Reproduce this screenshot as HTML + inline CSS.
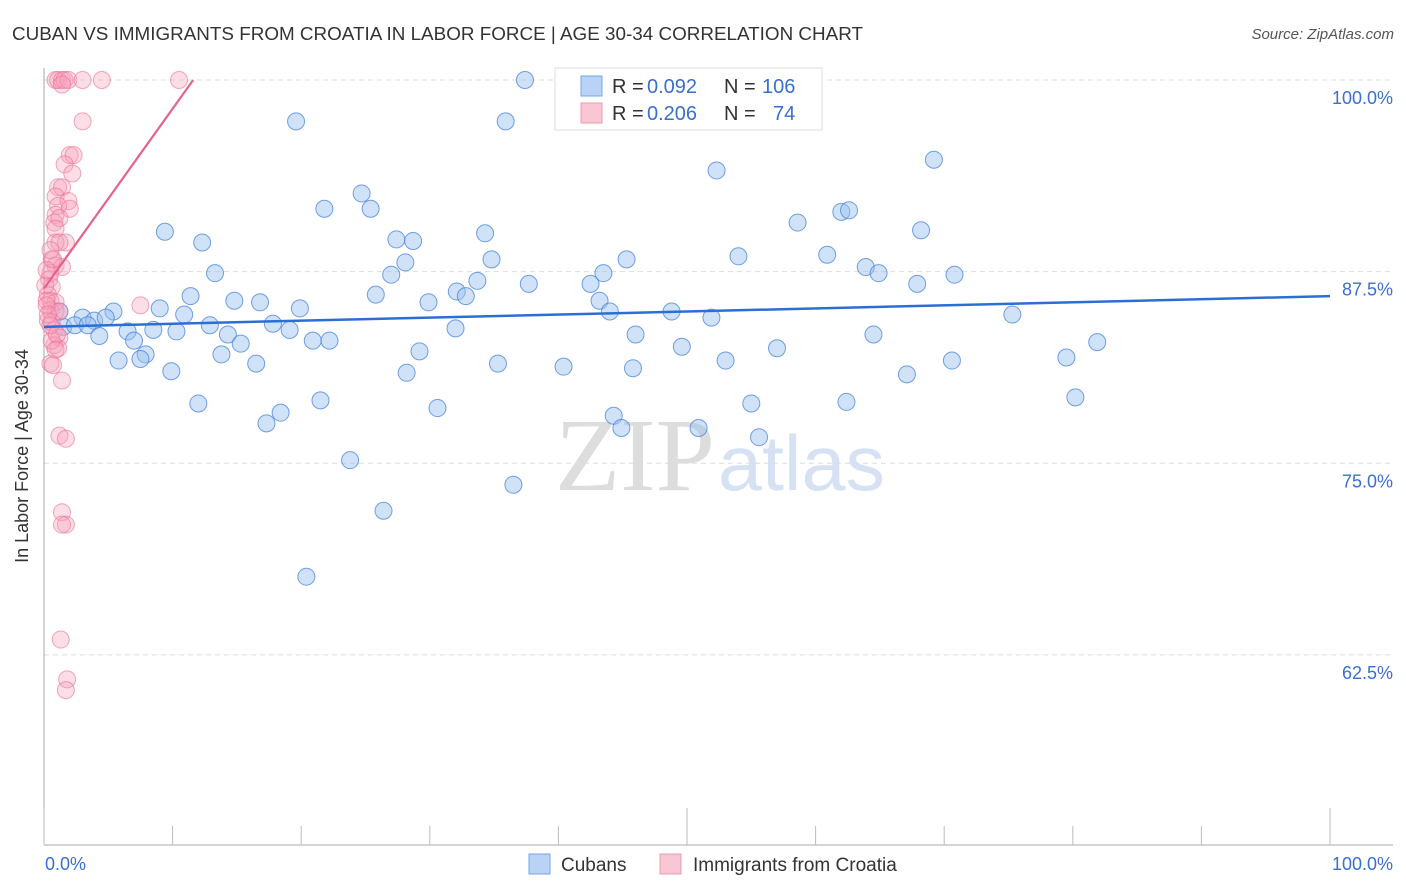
<!DOCTYPE html>
<html><head><meta charset="utf-8">
<style>
body{margin:0;background:#fff;font-family:"Liberation Sans",sans-serif;}
svg{display:block}
</style></head>
<body>
<svg id="chart" width="1406" height="892" xmlns="http://www.w3.org/2000/svg">
<text x="12" y="40" font-size="18" fill="#333" textLength="851" lengthAdjust="spacingAndGlyphs">CUBAN VS IMMIGRANTS FROM CROATIA IN LABOR FORCE | AGE 30-34 CORRELATION CHART</text>
<text x="1394" y="39" font-size="15" fill="#555" font-style="italic" text-anchor="end">Source: ZipAtlas.com</text>
<text x="28" y="456" font-size="18" fill="#333" text-anchor="middle" transform="rotate(-90 28 456)">In Labor Force | Age 30-34</text>
<text x="555" y="490" font-size="104" fill="#ddd" textLength="160" lengthAdjust="spacingAndGlyphs" font-family="Liberation Serif,serif">ZIP</text>
<text x="718" y="490" font-size="78" fill="#d6e2f4" textLength="167" lengthAdjust="spacingAndGlyphs">atlas</text>
<g id="grid"></g><g id="axes"></g><g id="pts"></g><g id="trend"></g>
<g font-size="20">
<rect x="555" y="68" width="267" height="62" fill="#fff" stroke="#ddd"/>
<rect x="581" y="76" width="21" height="20" fill="#b8d3f5" stroke="#7aa6e6"/>
<rect x="581" y="103" width="21" height="20" fill="#f9c6d4" stroke="#ef9ab2"/>
<text x="612" y="93" fill="#333">R =</text><text x="647" y="93" fill="#3a6fcf">0.092</text>
<text x="724" y="93" fill="#333">N =</text><text x="762" y="93" fill="#3a6fcf">106</text>
<text x="612" y="120" fill="#333">R =</text><text x="647" y="120" fill="#3a6fcf">0.206</text>
<text x="724" y="120" fill="#333">N =</text><text x="773" y="120" fill="#3a6fcf">74</text>
</g>
<g>
<rect x="529" y="854" width="21" height="20" fill="#b8d3f5" stroke="#7aa6e6"/>
<text x="561" y="871" font-size="19" fill="#333">Cubans</text>
<text x="693" y="871" font-size="19" fill="#333">Immigrants from Croatia</text>
<rect x="660" y="854" width="21" height="20" fill="#f9c6d4" stroke="#ef9ab2"/>
</g>
</svg>
<script>
const yTicks=[100,87.5,75,62.5];
const yTickLabels=["100.0%","87.5%","75.0%","62.5%"];
const xTickLabels=["0.0%","100.0%"];
const blueX=[37.4,19.6,35.9,52.3,69.2,24.7,21.8,25.4,58.6,62.0,62.6,9.4,12.3,34.3,27.4,28.7,68.2,54.0,60.9,28.1,34.8,27.0,13.3,43.5,45.3,63.9,64.9,70.8,33.7,37.7,42.5,67.9,11.4,14.8,16.8,25.8,32.1,32.8,43.2,29.9,19.9,9.0,5.4,10.9,44.0,48.8,75.3,51.9,3.0,3.9,4.8,1.5,2.4,1.2,3.4,12.9,17.8,19.1,6.5,8.5,10.3,14.3,4.3,7.0,20.9,22.2,15.3,32.0,46.0,64.5,49.6,57.0,7.9,5.8,7.5,13.8,16.5,29.2,35.3,40.4,53.0,45.8,70.6,79.5,81.9,9.9,28.2,67.1,12.0,21.5,30.6,55.0,62.4,80.2,18.4,17.3,44.3,44.9,50.9,55.6,23.8,36.5,26.4,20.4];
const blueY=[100,97.3,97.3,94.1,94.8,92.6,91.6,91.6,90.7,91.4,91.5,90.1,89.4,90.0,89.6,89.5,90.2,88.5,88.6,88.1,88.3,87.3,87.4,87.4,88.3,87.8,87.4,87.3,86.9,86.7,86.7,86.7,85.9,85.6,85.5,86.0,86.2,85.9,85.6,85.5,85.1,85.1,84.9,84.7,84.9,84.9,84.7,84.5,84.5,84.3,84.5,83.9,84.0,84.9,84.0,84.0,84.1,83.7,83.6,83.7,83.6,83.4,83.3,83.0,83.0,83.0,82.8,83.8,83.4,83.4,82.6,82.5,82.1,81.7,81.8,82.1,81.5,82.3,81.5,81.3,81.7,81.2,81.7,81.9,82.9,81.0,80.9,80.8,78.9,79.1,78.6,78.9,79.0,79.3,78.3,77.6,78.1,77.3,77.3,76.7,75.2,73.6,71.9,67.6];
const pinkX=[0.9,1.1,1.4,1.6,1.9,1.4,3.0,4.5,10.5,3.0,2.0,2.3,1.6,2.2,1.1,1.4,0.9,1.9,1.1,2.0,0.9,0.8,1.2,0.9,1.7,0.9,1.2,0.6,0.9,1.4,0.5,0.4,0.6,0.3,0.5,0.9,0.5,0.9,1.2,0.3,0.6,0.8,1.2,0.8,1.1,0.6,0.5,0.7,1.4,1.2,1.7,1.4,1.7,1.4,7.5,1.3,1.8,1.7,0.1,0.2,0.2,0.5,1.0,0.7,0.5,0.2,0.3,0.9];
const pinkY=[100,100,100,100,100,99.7,100,100,100,97.3,95.1,95.1,94.5,93.9,93.0,93.0,92.4,92.1,91.8,91.6,91.2,90.7,91.0,90.3,89.4,89.4,89.4,88.3,87.9,87.8,87.4,87.0,86.5,86.0,85.6,85.5,85.0,84.9,84.9,84.3,84.2,83.7,83.2,82.7,82.5,83.0,81.5,81.4,80.4,76.8,76.6,71.8,71.0,71.0,85.3,63.5,60.9,60.2,86.6,85.6,85.3,84.0,83.4,88.3,88.9,87.6,84.7,82.4];
const blueTrend=[0,83.9,100,85.9];
const pinkTrend=[0,86.4,11.6,100];

const NS="http://www.w3.org/2000/svg";
const X0=44,X1=1330,Y100=80,PXPER=15.33;
const xs=v=>X0+(X1-X0)*v/100;
const ys=v=>Y100+(100-v)*PXPER;
function mk(t,a,p){const e=document.createElementNS(NS,t);for(const k in a)e.setAttribute(k,a[k]);p.appendChild(e);return e;}
const grid=document.getElementById('grid'),axes=document.getElementById('axes'),pts=document.getElementById('pts'),tr=document.getElementById('trend');
yTicks.forEach((t,i)=>{
 const l=mk('line',{x1:X0,x2:1393,y1:ys(t),y2:ys(t),stroke:'#ddd','stroke-dasharray':'5,4'},grid);
 
 
 const tx=mk('text',{x:1393,y:ys(t)+24,'font-size':18,fill:'#3a6fcf','text-anchor':'end'},axes);
 tx.textContent=yTickLabels[i];
 
 
});
const ya=mk('line',{x1:X0,x2:X0,y1:68,y2:845,stroke:'#aaa'},axes);


const xa=mk('line',{x1:X0,x2:1393,y1:845,y2:845,stroke:'#aaa'},axes);


for(let k=0;k<=10;k++){
 const tk=mk('line',{x1:xs(k*10),x2:xs(k*10),y1:(k%5==0?808:826),y2:845,stroke:'#bbb'},axes);
 
 
}
const xl0=mk('text',{x:45,y:870,'font-size':18,fill:'#3a6fcf'},axes);xl0.textContent=xTickLabels[0];


const xl1=mk('text',{x:1393,y:870,'font-size':18,fill:'#3a6fcf','text-anchor':'end'},axes);xl1.textContent=xTickLabels[1];


blueX.forEach((v,i)=>{
 const c=mk('circle',{cx:xs(v),cy:ys(blueY[i]),r:8.5,fill:'rgba(150,190,240,0.45)',stroke:'rgba(70,130,220,0.75)','stroke-width':1},pts);
 
 
});
pinkX.forEach((v,i)=>{
 const c=mk('circle',{cx:xs(v),cy:ys(pinkY[i]),r:8.5,fill:'rgba(245,160,185,0.35)',stroke:'rgba(235,110,150,0.6)','stroke-width':1},pts);
 
 
});
const bt=mk('line',{x1:xs(blueTrend[0]),y1:ys(blueTrend[1]),x2:xs(blueTrend[2]),y2:ys(blueTrend[3]),stroke:'#2b6fd6','stroke-width':2.5},tr);


const pt=mk('line',{x1:xs(pinkTrend[0]),y1:ys(pinkTrend[1]),x2:xs(pinkTrend[2]),y2:ys(pinkTrend[3]),stroke:'#e8608d','stroke-width':2.2},tr);


</script>
</body></html>
